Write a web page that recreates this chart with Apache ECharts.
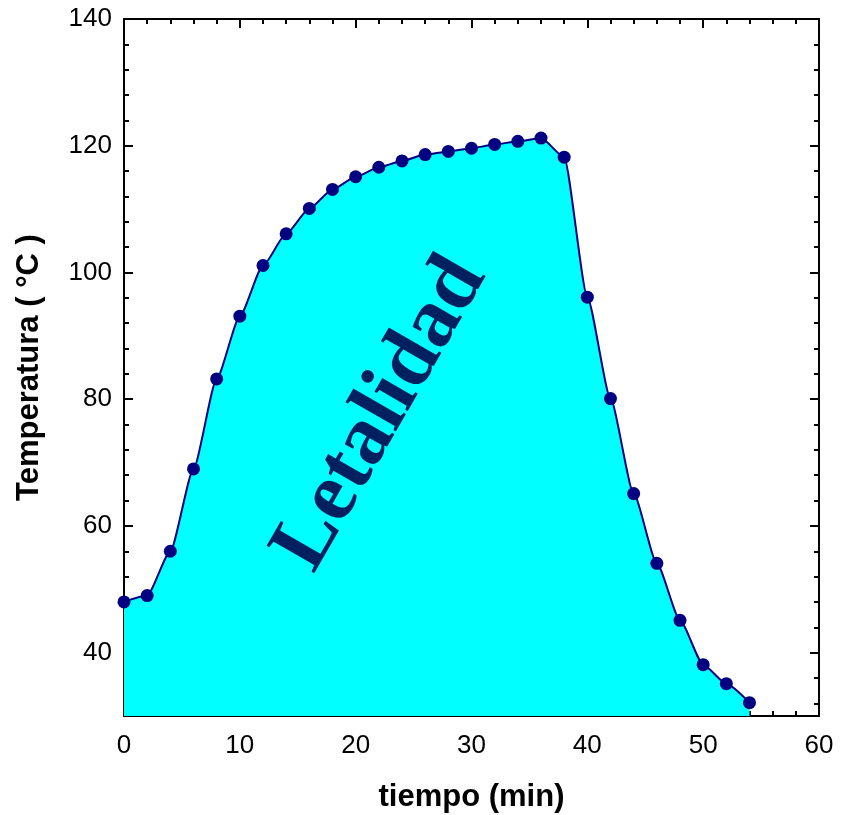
<!DOCTYPE html>
<html><head><meta charset="utf-8">
<script src="https://cdn.jsdelivr.net/npm/echarts@6/dist/echarts.min.js"></script>
<style>html,body{margin:0;padding:0;background:#fff}#c{width:843px;height:815px}</style>
</head><body><div id="c"></div>
<script>
const tiempo = [0,2,4,6,8,10,12,14,16,18,20,22,24,26,28,30,32,34,36,38,40,42,44,46,48,50,52,54];
const temperatura = [48,49,56,69,83.2,93.1,101.1,106.1,110.1,113.1,115.1,116.6,117.6,118.6,119.1,119.6,120.2,120.7,121.2,118.2,96.1,80.1,65.1,54.1,45.1,38.1,35.1,32.1];
const yMajorTicks = [40,60,80,100,120,140];
const yMinorTicks = [32,36,44,48,52,56,64,68,72,76,84,88,92,96,104,108,112,116,124,128,132,136];
const xTitle = 'tiempo (min)';
const yTitle = 'Temperatura ( °C )';
const areaLabel = 'Letalidad';

const chart = echarts.init(document.getElementById('c'), null, {renderer:'canvas'});
const axisLine = {show:true, lineStyle:{color:'#000', width:2}};
const font = 'Liberation Sans, Arial, sans-serif';
const tickStyle = {width:2, color:'#000'};
function yAx(pos, isMajor, withLabels){
  const a = {
    type:'value', min:30, max:140, position:pos,
    axisLine: isMajor ? axisLine : {show:false},
    axisTick:{show:true, inside:true, length: isMajor?9:5, lineStyle:tickStyle,
      customValues: isMajor ? yMajorTicks : yMinorTicks},
    axisLabel: withLabels ? {show:true, fontFamily:font, fontSize:26, color:'#000', margin:12, customValues:yMajorTicks} : {show:false},
    splitLine:{show:false}
  };
  if (withLabels){
    a.name = yTitle; a.nameLocation='middle'; a.nameGap=79;
    a.nameTextStyle = {fontFamily:font, fontWeight:'bold', fontSize:31, color:'#000'};
  }
  return a;
}
chart.setOption({
  animation:false,
  grid:{left:124, right:24, top:19, bottom:99, containLabel:false, outerBoundsMode:'none'},
  xAxis:[{
    type:'value', min:0, max:60, interval:10, position:'bottom',
    name:xTitle, nameLocation:'middle', nameGap:66,
    nameTextStyle:{fontFamily:font, fontWeight:'bold', fontSize:31, color:'#000'},
    axisLine:axisLine,
    axisTick:{show:true, inside:true, length:9, lineStyle:tickStyle},
    minorTick:{show:true, splitNumber:5, length:5, lineStyle:tickStyle},
    axisLabel:{fontFamily:font, fontSize:26, color:'#000', margin:17},
    splitLine:{show:false}
  },{
    type:'value', min:0, max:60, interval:10, position:'top',
    axisLine:axisLine,
    axisTick:{show:true, inside:true, length:9, lineStyle:tickStyle},
    minorTick:{show:true, splitNumber:5, length:5, lineStyle:tickStyle},
    axisLabel:{show:false}, splitLine:{show:false}
  }],
  yAxis:[yAx('left',true,true), yAx('left',false,false), yAx('right',true,false), yAx('right',false,false)],
  series:[{
    type:'line', xAxisIndex:0, yAxisIndex:0,
    data:tiempo.map((t,i)=>[t,temperatura[i]]),
    smooth:0.2, smoothMonotone:'x',
    symbol:'circle', symbolSize:13,
    itemStyle:{color:'#000080'},
    lineStyle:{color:'#000080', width:2},
    areaStyle:{color:'#00FFFF', opacity:1, origin:'start'},
    z:2
  }],
  graphic:[{
    type:'text', x:381, y:414, rotation:60*Math.PI/180, z:10,
    style:{text:areaLabel, font:'bold 84px "Liberation Serif", "Times New Roman", serif', fill:'#00205F', align:'center', verticalAlign:'middle'}
  }]
});
</script></body></html>
